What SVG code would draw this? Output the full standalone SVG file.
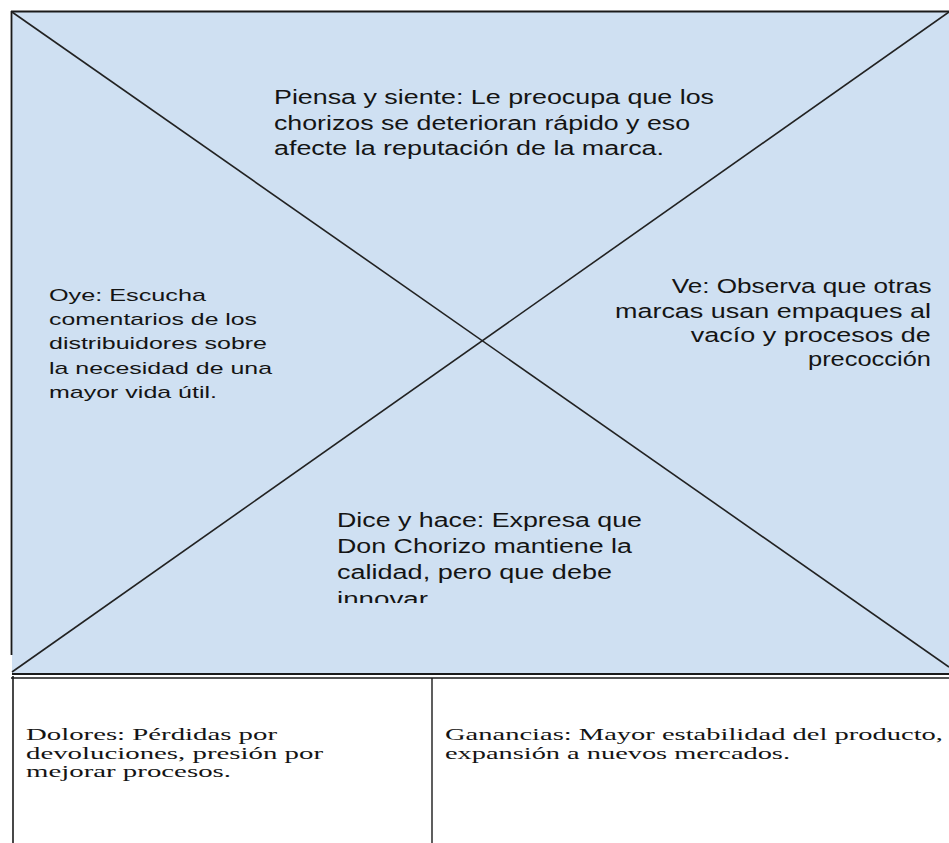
<svg xmlns="http://www.w3.org/2000/svg" width="949" height="843" viewBox="0 0 949 843">
<style>
.sans{font-family:"Liberation Sans",Arial,sans-serif;fill:#141414}
.serif{font-family:"Liberation Serif","Times New Roman",serif;fill:#141414;font-size:16.6px}
.frame{stroke:#1a1a1a;fill:none}
.diag{stroke:#222;stroke-width:1.6;fill:none}
</style>
<defs>
<clipPath id="diceClip"><rect x="300" y="490" width="400" height="113"/></clipPath>
</defs>
<rect width="949" height="843" fill="#fff"/>
<g id="empathy-map">
<rect x="12" y="12" width="937" height="662" fill="#cfe0f2"/>
<line class="frame" x1="11" y1="11.5" x2="949" y2="11.5" stroke-width="1.8"/>
<line class="frame" x1="11.5" y1="11" x2="11.5" y2="655" stroke-width="1.8"/>
</g>
<g id="connectors">
<line class="diag" x1="12" y1="12" x2="949" y2="667"/>
<line class="diag" x1="949" y1="12" x2="12" y2="672"/>
</g>
<g id="piensa">
<text class="sans" font-size="19.5"><tspan x="274" y="104" textLength="440" lengthAdjust="spacingAndGlyphs">Piensa y siente: Le preocupa que los</tspan><tspan x="274" y="129.5" textLength="416" lengthAdjust="spacingAndGlyphs">chorizos se deterioran rápido y eso</tspan><tspan x="274" y="155" textLength="390" lengthAdjust="spacingAndGlyphs">afecte la reputación de la marca.</tspan></text>
</g>
<g id="oye">
<text class="sans" font-size="17"><tspan x="49" y="300.7" textLength="157" lengthAdjust="spacingAndGlyphs">Oye: Escucha</tspan><tspan x="49" y="325" textLength="208" lengthAdjust="spacingAndGlyphs">comentarios de los</tspan><tspan x="49" y="349.3" textLength="218" lengthAdjust="spacingAndGlyphs">distribuidores sobre</tspan><tspan x="49" y="374" textLength="223" lengthAdjust="spacingAndGlyphs">la necesidad de una</tspan><tspan x="49" y="398.3" textLength="168" lengthAdjust="spacingAndGlyphs">mayor vida útil.</tspan></text>
</g>
<g id="ve">
<text class="sans" font-size="20.5"><tspan x="671.7" y="293.3" textLength="260" lengthAdjust="spacingAndGlyphs">Ve: Observa que otras</tspan><tspan x="615" y="317.5" textLength="316" lengthAdjust="spacingAndGlyphs">marcas usan empaques al</tspan><tspan x="690.7" y="341.7" textLength="240" lengthAdjust="spacingAndGlyphs">vacío y  procesos de</tspan><tspan x="808" y="366" textLength="123" lengthAdjust="spacingAndGlyphs">precocción</tspan></text>
</g>
<g id="dice" clip-path="url(#diceClip)">
<text class="sans" font-size="19.5"><tspan x="337" y="526.5" textLength="305" lengthAdjust="spacingAndGlyphs">Dice y hace: Expresa que</tspan><tspan x="337" y="553" textLength="295" lengthAdjust="spacingAndGlyphs">Don Chorizo mantiene la</tspan><tspan x="337" y="579.3" textLength="275" lengthAdjust="spacingAndGlyphs">calidad, pero que debe</tspan><tspan x="337" y="606" textLength="91" lengthAdjust="spacingAndGlyphs">innovar</tspan></text>
</g>
<g id="table">
<line class="frame" x1="12" y1="674" x2="949" y2="674" stroke-width="1.8"/>
<line class="frame" x1="11" y1="678" x2="949" y2="678" stroke-width="1.4"/>
<line class="frame" x1="13" y1="676" x2="13" y2="843" stroke-width="1.6"/>
<line class="frame" x1="432" y1="678" x2="432" y2="843" stroke-width="1.4"/>
</g>
<g id="dolores">
<text class="serif"><tspan x="26" y="740" textLength="251" lengthAdjust="spacingAndGlyphs">Dolores: Pérdidas por</tspan><tspan x="26" y="758.5" textLength="297" lengthAdjust="spacingAndGlyphs">devoluciones, presión por</tspan><tspan x="26" y="777" textLength="205" lengthAdjust="spacingAndGlyphs">mejorar procesos.</tspan></text>
</g>
<g id="ganancias">
<text class="serif"><tspan x="445" y="740" textLength="498" lengthAdjust="spacingAndGlyphs">Ganancias: Mayor estabilidad del producto,</tspan><tspan x="445" y="758.5" textLength="345" lengthAdjust="spacingAndGlyphs">expansión a nuevos mercados.</tspan></text>
</g>
</svg>
